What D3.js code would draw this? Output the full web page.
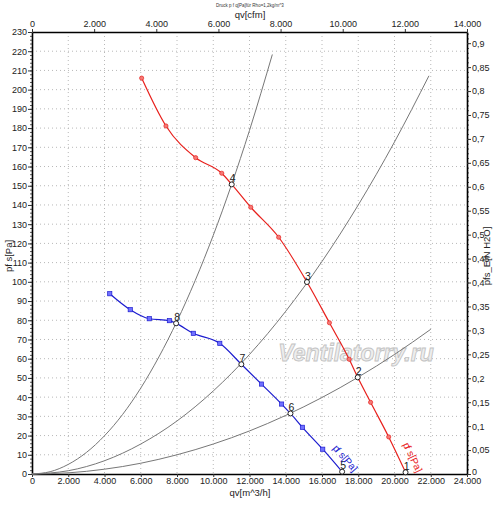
<!DOCTYPE html>
<html>
<head>
<meta charset="utf-8">
<script src="https://cdn.jsdelivr.net/npm/d3@7"></script>
<style>
  body { margin: 0; background: #fff; }
  text { font-family: "Liberation Sans", Arial, sans-serif; }
</style>
</head>
<body>
<script>
// fan curve at ps, red (qv m^3/h, ps Pa), op = operating point number
var redQ  = [6050, 7390, 9030, 10470, 11020, 12070, 13610, 15170, 16410, 17500, 17970, 18680, 19680, 20610];
var redP  = [206, 181.1, 164.6, 156.5, 150.7, 138.8, 123.2, 99.9, 78.7, 59.7, 50.3, 37.3, 19.3, 0.9];
var redOp = ['', '', '', '', '4', '', '', '3', '', '', '2', '', '', '1'];

// fan curve, blue
var blueQ  = [4290, 5420, 6470, 7580, 7950, 8900, 10360, 11550, 12660, 13770, 14260, 14920, 16040, 17110];
var blueP  = [93.8, 85.5, 80.8, 79.8, 78.4, 73.2, 68.0, 57.1, 46.8, 36.4, 31.5, 24.3, 12.9, 1.2];
var blueOp = ['', '', '', '', '8', '', '', '7', '', '', '6', '', '', '5'];

// system curves (grey)
var sysAQ = [0, 1000, 2000, 3000, 4000, 5000, 6000, 7000, 8000, 9000, 10000, 11000, 12000, 13260];
var sysAP = [0, 1.2, 5.0, 11.2, 19.9, 31.0, 44.7, 60.9, 79.5, 100.6, 124.2, 150.3, 178.8, 218.3];
var sysBQ = [0, 2000, 4000, 6000, 8000, 10000, 12000, 14000, 16000, 18000, 20000, 21900];
var sysBP = [0, 1.7, 6.9, 15.6, 27.6, 43.2, 62.2, 84.7, 110.6, 140, 172.8, 207.2];
var sysCQ = [0, 2000, 4000, 6000, 8000, 10000, 12000, 14000, 16000, 18000, 20000, 22000];
var sysCP = [0, 0.6, 2.5, 5.6, 10.0, 15.6, 22.4, 30.5, 39.8, 50.4, 62.2, 75.3];

// axis ticks
var qTicks   = d3.range(0, 24001, 2000);
var cfmTicks = d3.range(0, 14001, 2000);
var paTicks  = d3.range(0, 231, 10);
var inTicks  = d3.range(0, 19).map(function(i){ return +(i * 0.05).toFixed(2); });

var W = 500, H = 505;
var plot = {left: 32, right: 467, top: 32, bottom: 474};
var PA_PER_INH2O = 249.089;

var de = d3.formatLocale({decimal: ',', thousands: '.', grouping: [3], currency: ['', '']});
var fmtThousand = de.format(',.0f');
var fmtIn = de.format('.2~f');

var svg = d3.select('body').append('svg')
  .attr('width', W)
  .attr('height', H);

var x = d3.scaleLinear().domain([0, 24000]).range([plot.left, plot.right]);
var xCfm = d3.scaleLinear().domain([0, 14000]).range([plot.left, plot.right]);
var y = d3.scaleLinear().domain([0, 230]).range([plot.bottom, plot.top]);
var yIn = d3.scaleLinear().domain([0, 230 / PA_PER_INH2O]).range([plot.bottom, plot.top]);

// grid
var grid = svg.append('g').attr('stroke', '#b8b8b8').attr('stroke-dasharray', '1,3');
grid.selectAll('line.v').data(qTicks.slice(1, -1)).enter().append('line')
  .attr('x1', function(d){ return x(d); }).attr('x2', function(d){ return x(d); })
  .attr('y1', plot.top).attr('y2', plot.bottom);
grid.selectAll('line.h').data(paTicks.slice(1, -1)).enter().append('line')
  .attr('x1', plot.left).attr('x2', plot.right)
  .attr('y1', function(d){ return y(d); }).attr('y2', function(d){ return y(d); });

// axes
function styleAxis(g) {
  g.selectAll('text').attr('font-size', 9).attr('fill', '#222')
    .style('font-family', '"Liberation Sans", Arial, sans-serif');
  g.selectAll('.tick line').attr('stroke', '#333');
  g.select('.domain').attr('stroke', '#000').attr('stroke-width', 1.6);
}
function minor(axis, vals, tr) {
  svg.append('g').attr('transform', tr)
    .call(axis.tickValues(vals).tickSize(2).tickSizeOuter(0).tickFormat(''))
    .call(function(g){ g.select('.domain').remove(); g.selectAll('line').attr('stroke', '#555'); });
}

minor(d3.axisLeft(y), d3.range(0, 231, 2), 'translate(' + plot.left + ',0)');
minor(d3.axisRight(yIn), d3.range(0, 0.921, 0.01), 'translate(' + plot.right + ',0)');

svg.append('g').attr('transform', 'translate(' + plot.left + ',0)')
  .call(d3.axisLeft(y).tickValues(paTicks).tickSize(4).tickSizeOuter(0).tickPadding(1).tickFormat(d3.format('d')))
  .call(styleAxis);
svg.append('g').attr('transform', 'translate(' + plot.right + ',0)')
  .call(d3.axisRight(yIn).tickValues(inTicks).tickSize(4).tickSizeOuter(0).tickPadding(1).tickFormat(fmtIn))
  .call(styleAxis)
  .call(function(g){
    // keep the zero label clear of the bottom axis labels
    g.selectAll('.tick text').filter(function(d){ return d === 0; }).attr('dy', '0.05em');
  });
svg.append('g').attr('transform', 'translate(0,' + plot.bottom + ')')
  .call(d3.axisBottom(x).tickValues(qTicks).tickSize(3).tickSizeOuter(0).tickPadding(1).tickFormat(fmtThousand))
  .call(styleAxis);
svg.append('g').attr('transform', 'translate(0,' + plot.top + ')')
  .call(d3.axisTop(xCfm).tickValues(cfmTicks).tickSize(3).tickSizeOuter(0).tickPadding(2).tickFormat(fmtThousand))
  .call(styleAxis);

// titles
svg.append('text').attr('x', 250).attr('y', 7).attr('text-anchor', 'middle')
  .attr('font-size', 4.5).attr('fill', '#333').text('Druck p f q[Pa]für Rho=1,2kg/m^3');
svg.append('text').attr('x', 250).attr('y', 18).attr('text-anchor', 'middle')
  .attr('font-size', 9.5).attr('fill', '#222').text('qv[cfm]');
svg.append('text').attr('x', 250).attr('y', 496).attr('text-anchor', 'middle')
  .attr('font-size', 9.5).attr('fill', '#222').text('qv[m^3/h]');
svg.append('text').attr('transform', 'translate(12,256) rotate(-90)').attr('text-anchor', 'middle')
  .attr('font-size', 9.5).attr('fill', '#222').text('pf s[Pa]');
svg.append('text').attr('transform', 'translate(490,256) rotate(-90)').attr('text-anchor', 'middle')
  .attr('font-size', 9.5).attr('fill', '#222').text('pfs_E[N H2O]');

// watermark
svg.append('text').attr('x', 356).attr('y', 361).attr('text-anchor', 'middle')
  .attr('font-size', 23).attr('font-style', 'italic').attr('font-weight', 'bold')
  .attr('fill', '#eeeeee').attr('stroke', '#c4c4c4').attr('stroke-width', 0.9)
  .text('Ventilatorry.ru');

var line = d3.line()
  .x(function(d){ return x(d.q); })
  .y(function(d){ return y(d.p); })
  .curve(d3.curveMonotoneX);

function zip(qs, ps, ops) {
  return qs.map(function(q, i){ return {q: q, p: ps[i], op: ops ? ops[i] : ''}; });
}

// system curves
[[sysAQ, sysAP], [sysBQ, sysBP], [sysCQ, sysCP]].forEach(function(s){
  svg.append('path').datum(zip(s[0], s[1]))
    .attr('d', line).attr('fill', 'none').attr('stroke', '#777').attr('stroke-width', 1);
});

function fanCurve(qs, ps, ops, color, fill, shape) {
  var data = zip(qs, ps, ops);
  svg.append('path').datum(data)
    .attr('d', line).attr('fill', 'none').attr('stroke', color).attr('stroke-width', 1.2);

  var marks = data.filter(function(d){ return d.op === ''; });
  if (shape === 'circle') {
    svg.selectAll(null).data(marks).enter().append('circle')
      .attr('cx', function(d){ return x(d.q); }).attr('cy', function(d){ return y(d.p); })
      .attr('r', 2.1).attr('fill', fill).attr('stroke', color).attr('stroke-width', 0.7);
  } else {
    svg.selectAll(null).data(marks).enter().append('rect')
      .attr('x', function(d){ return x(d.q) - 2.1; }).attr('y', function(d){ return y(d.p) - 2.1; })
      .attr('width', 4.2).attr('height', 4.2).attr('fill', fill).attr('stroke', color).attr('stroke-width', 0.7);
  }

  var ops2 = data.filter(function(d){ return d.op !== ''; });
  svg.selectAll(null).data(ops2).enter().append('circle')
    .attr('cx', function(d){ return x(d.q); }).attr('cy', function(d){ return y(d.p); })
    .attr('r', 2.5).attr('fill', '#fff').attr('stroke', '#222').attr('stroke-width', 1);
  svg.selectAll(null).data(ops2).enter().append('text')
    .attr('x', function(d){ return x(d.q) + 1; }).attr('y', function(d){ return y(d.p) - 2.5; })
    .attr('text-anchor', 'middle').attr('font-size', 10.5).attr('fill', '#222')
    .text(function(d){ return d.op; });

  // label along the end of the curve
  var a = data[data.length - 2], b = data[data.length - 1];
  var ang = Math.atan2(y(b.p) - y(a.p), x(b.q) - x(a.q)) * 180 / Math.PI;
  var t = svg.append('text')
    .attr('transform', 'translate(' + (x(b.q) + 11) + ',' + (y(b.p) + 1) + ') rotate(' + ang + ')')
    .attr('text-anchor', 'end').attr('font-size', 10).attr('fill', color);
  t.append('tspan').text('p');
  t.append('tspan').attr('dx', -2).text('f s[Pa]');
}

fanCurve(redQ, redP, redOp, '#e8201c', '#f47a76', 'circle');
fanCurve(blueQ, blueP, blueOp, '#1c1ccf', '#7070ff', 'square');
</script>
</body>
</html>
